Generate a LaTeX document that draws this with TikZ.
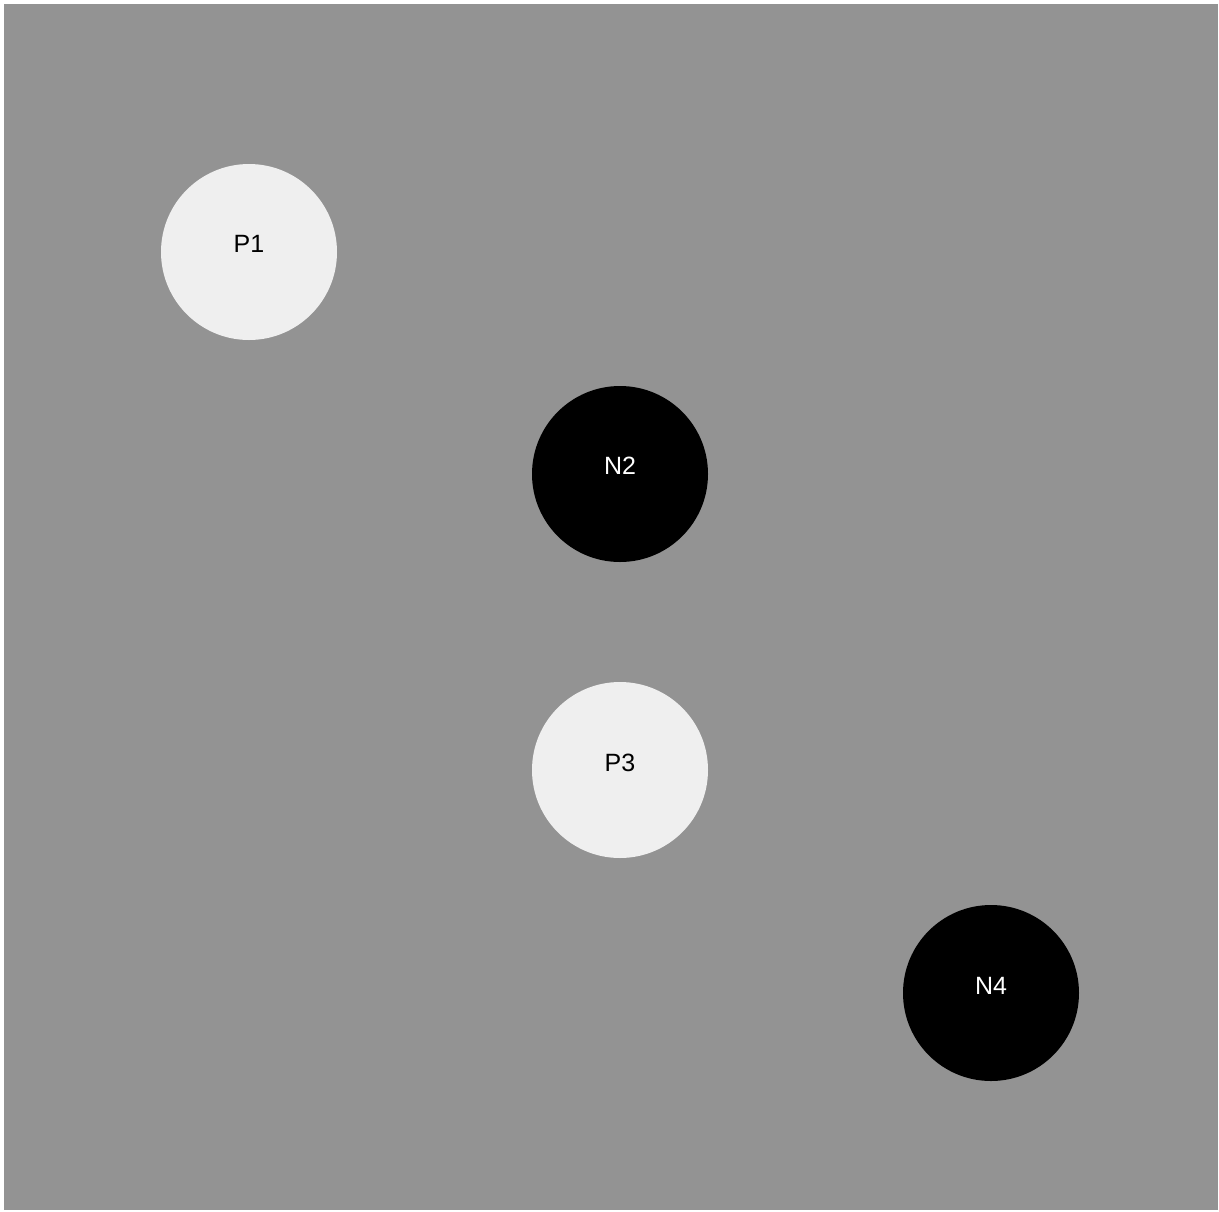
\documentclass[tikz,border=0pt]{standalone}
\usepackage{fontspec}
\setmainfont{Liberation Sans}
\definecolor{bg}{HTML}{939393}
\definecolor{lightc}{HTML}{EFEFEF}
\begin{document}
\begin{tikzpicture}[x=1pt,y=-1pt,
  poscirc/.style={circle,fill=lightc,minimum size=176pt,inner sep=0pt},
  negcirc/.style={circle,fill=black,minimum size=176pt,inner sep=0pt},
  lbl/.style={font=\fontsize{25}{25}\selectfont,inner sep=0pt}]
\useasboundingbox[fill=white] (0,0) rectangle (1219,1211);
\fill[bg] (4,4) rectangle (1218,1210);
\node[poscirc] (p1) at (249,252) {};
\node[lbl,text=black] (p1l) at (249,244) {P1};
\node[negcirc] (n2) at (620,474) {};
\node[lbl,text=white] (n2l) at (620,466) {N2};
\node[poscirc] (p3) at (620,770) {};
\node[lbl,text=black] (p3l) at (620,763) {P3};
\node[negcirc] (n4) at (991,993) {};
\node[lbl,text=white] (n4l) at (991,986) {N4};
\end{tikzpicture}
\end{document}
